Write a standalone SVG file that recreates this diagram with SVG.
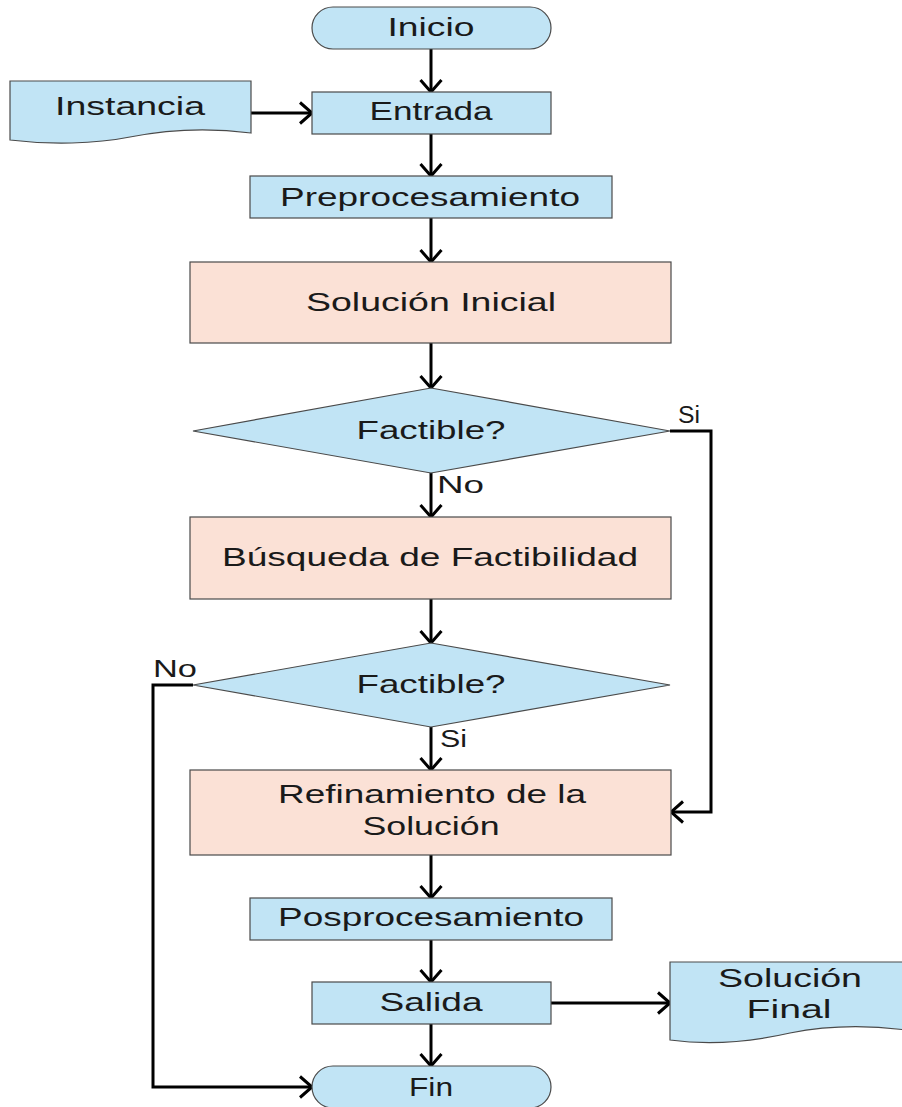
<svg xmlns="http://www.w3.org/2000/svg" width="902" height="1107" viewBox="0 0 902 1107">
  <style>
    .blue { fill: #c1e4f5; stroke: #4a4a4a; stroke-width: 1.2; }
    .pink { fill: #fbe1d6; stroke: #4a4a4a; stroke-width: 1.2; }
    .lbl { font-family: "Liberation Sans", Arial, sans-serif; font-size: 25px; fill: #1a1a1a; text-anchor: middle; }
    .tag { font-family: "Liberation Sans", Arial, sans-serif; font-size: 23px; fill: #1a1a1a; }
    .wire { fill: none; stroke: #000; stroke-width: 3; stroke-linejoin: miter; }
  </style>
  <defs>
    <marker id="chev" viewBox="0 0 15 24" refX="13.5" refY="12" markerWidth="15" markerHeight="24" markerUnits="userSpaceOnUse" orient="auto">
      <path d="M1.5,1.5 L13.5,12 L1.5,22.5" fill="none" stroke="#000" stroke-width="3"/>
    </marker>
  </defs>
  <rect width="902" height="1107" fill="#fff"/>

  <!-- connectors -->
  <g id="connectors">
    <path class="wire" d="M431,49 V92" marker-end="url(#chev)"/>
    <path class="wire" d="M251,113 H312" marker-end="url(#chev)"/>
    <path class="wire" d="M431,134 V176" marker-end="url(#chev)"/>
    <path class="wire" d="M431,218 V262" marker-end="url(#chev)"/>
    <path class="wire" d="M431,343 V388" marker-end="url(#chev)"/>
    <path class="wire" d="M431,472 V517" marker-end="url(#chev)"/>
    <path class="wire" d="M670,431 H711 V812 H671" marker-end="url(#chev)"/>
    <path class="wire" d="M431,599 V643" marker-end="url(#chev)"/>
    <path class="wire" d="M193,685 H153 V1087 H312" marker-end="url(#chev)"/>
    <path class="wire" d="M431,727 V770" marker-end="url(#chev)"/>
    <path class="wire" d="M431,855 V898" marker-end="url(#chev)"/>
    <path class="wire" d="M431,940 V982" marker-end="url(#chev)"/>
    <path class="wire" d="M551,1003 H670" marker-end="url(#chev)"/>
    <path class="wire" d="M431,1024 V1066" marker-end="url(#chev)"/>
    <text class="tag" x="678" y="423" textLength="22" lengthAdjust="spacingAndGlyphs">Si</text>
    <text class="tag" x="437" y="493" textLength="47" lengthAdjust="spacingAndGlyphs">No</text>
    <text class="tag" x="153" y="677" textLength="44" lengthAdjust="spacingAndGlyphs">No</text>
    <text class="tag" x="440" y="747" textLength="27" lengthAdjust="spacingAndGlyphs">Si</text>
  </g>

  <g id="inicio">
    <rect class="blue" x="312" y="7" width="239" height="42" rx="21"/>
    <text class="lbl" x="431" y="36" textLength="87" lengthAdjust="spacingAndGlyphs">Inicio</text>
  </g>

  <g id="instancia">
    <path class="blue" d="M10,81 H251 V133 C205,127 165,130 130,137 C95,144 50,145 10,140 Z"/>
    <text class="lbl" x="130" y="115" textLength="150" lengthAdjust="spacingAndGlyphs">Instancia</text>
  </g>

  <g id="entrada">
    <rect class="blue" x="312" y="92" width="239" height="42"/>
    <text class="lbl" x="431" y="120" textLength="123" lengthAdjust="spacingAndGlyphs">Entrada</text>
  </g>

  <g id="preprocesamiento">
    <rect class="blue" x="250" y="176" width="362" height="42"/>
    <text class="lbl" x="430" y="206" textLength="300" lengthAdjust="spacingAndGlyphs">Preprocesamiento</text>
  </g>

  <g id="solucion-inicial">
    <rect class="pink" x="190" y="262" width="481" height="81"/>
    <text class="lbl" x="431" y="311" textLength="250" lengthAdjust="spacingAndGlyphs">Solución Inicial</text>
  </g>

  <g id="factible-1">
    <polygon class="blue" points="193,431 431,388 670,431 431,473"/>
    <text class="lbl" x="431" y="439" textLength="149" lengthAdjust="spacingAndGlyphs">Factible?</text>
  </g>

  <g id="busqueda">
    <rect class="pink" x="190" y="517" width="481" height="82"/>
    <text class="lbl" x="430" y="566" textLength="416" lengthAdjust="spacingAndGlyphs">Búsqueda de Factibilidad</text>
  </g>

  <g id="factible-2">
    <polygon class="blue" points="193,685 431,643 670,685 431,727"/>
    <text class="lbl" x="431" y="693" textLength="149" lengthAdjust="spacingAndGlyphs">Factible?</text>
  </g>

  <g id="refinamiento">
    <rect class="pink" x="190" y="770" width="481" height="85"/>
    <text class="lbl" x="432" y="803" textLength="308" lengthAdjust="spacingAndGlyphs">Refinamiento de la</text>
    <text class="lbl" x="431" y="835" textLength="137" lengthAdjust="spacingAndGlyphs">Solución</text>
  </g>

  <g id="posprocesamiento">
    <rect class="blue" x="250" y="898" width="362" height="42"/>
    <text class="lbl" x="431" y="926" textLength="306" lengthAdjust="spacingAndGlyphs">Posprocesamiento</text>
  </g>

  <g id="salida">
    <rect class="blue" x="312" y="982" width="239" height="42"/>
    <text class="lbl" x="431" y="1011" textLength="103" lengthAdjust="spacingAndGlyphs">Salida</text>
  </g>

  <g id="solucion-final">
    <path class="blue" d="M670,962 H906 V1030 C860,1024 820,1027 790,1033 C755,1041 715,1046 670,1040 Z"/>
    <text class="lbl" x="790" y="987" textLength="144" lengthAdjust="spacingAndGlyphs">Solución</text>
    <text class="lbl" x="789" y="1018" textLength="85" lengthAdjust="spacingAndGlyphs">Final</text>
  </g>

  <g id="fin">
    <rect class="blue" x="312" y="1066" width="239" height="42" rx="21"/>
    <text class="lbl" x="431" y="1096" textLength="44" lengthAdjust="spacingAndGlyphs">Fin</text>
  </g>
</svg>
